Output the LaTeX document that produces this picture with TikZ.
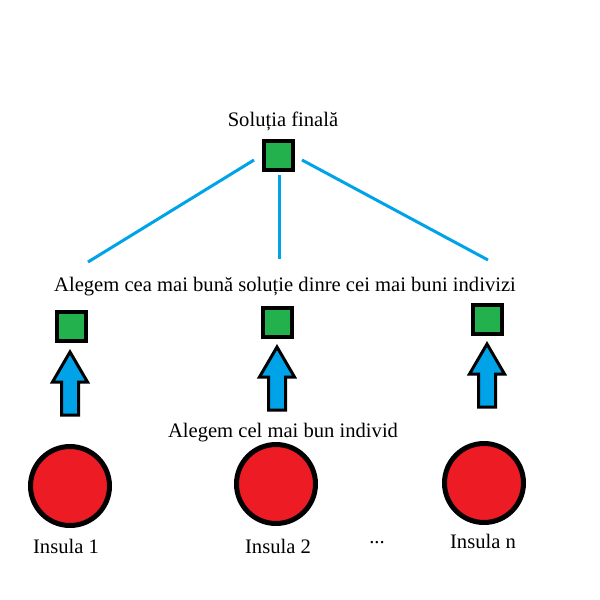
\documentclass[tikz,border=0pt]{standalone}
\usepackage{fontspec}
\setmainfont{Liberation Serif}
\usepackage{tikz}
\usetikzlibrary{positioning}
\definecolor{paintblue}{HTML}{00A2E8}
\definecolor{paintgreen}{HTML}{22B14C}
\definecolor{paintred}{HTML}{ED1C24}

\begin{document}
\begin{tikzpicture}[
  x=1pt, y=-1pt,
  solbox/.style={draw, line width=4pt, fill=paintgreen, minimum size=29pt, inner sep=0pt},
  island/.style={circle, draw, line width=5pt, fill=paintred, minimum size=79pt, inner sep=0pt},
  lbl/.style={font=\fontsize{20.6}{24}\selectfont, inner sep=0pt, anchor=base},
  link/.style={paintblue, line width=3pt},
  uparr/.style={draw, line width=3pt, fill=paintblue, line join=miter}
]
\useasboundingbox (0,0) rectangle (600,600);

\node[lbl] (tfinal) at (283,126) {Soluția finală};
\node[solbox] (final) at (278.5,155.5) {};

\coordinate (s1) at (254,160);  \coordinate (e1) at (88,262);
\coordinate (s2) at (279,175);  \coordinate (e2) at (279,259);
\coordinate (s3) at (302,160);  \coordinate (e3) at (488,260);
\draw[link] (s1) -- (e1);
\draw[link] (s2) -- (e2);
\draw[link] (s3) -- (e3);

\node[lbl] (tbest) at (285,291) {Alegem cea mai bună soluție dinre cei mai buni indivizi};

\node[solbox] (b1) at (71.5,326.5) {};
\node[solbox] (b2) at (277.5,322) {};
\node[solbox] (b3) at (487.5,319) {};

\foreach \x/\y in {70/352, 277/347, 487/344}
  \draw[uparr] (\x,\y) -- ++(17.5,30) -- ++(-9,0) -- ++(0,33) -- ++(-17,0)
    -- ++(0,-33) -- ++(-9,0) -- cycle;

\node[lbl] (tind) at (283,437) {Alegem cel mai bun individ};

\node[island] (i1) at (70,486) {};
\node[island] (i2) at (276,484) {};
\node[island] (i3) at (484,483) {};

\node[lbl] (n1) at (66,553) {Insula 1};
\node[lbl] (n2) at (278,553) {Insula 2};
\node[lbl] (dots) at (377,543) {...};
\node[lbl] (n3) at (483,548) {Insula n};
\end{tikzpicture}
\end{document}
